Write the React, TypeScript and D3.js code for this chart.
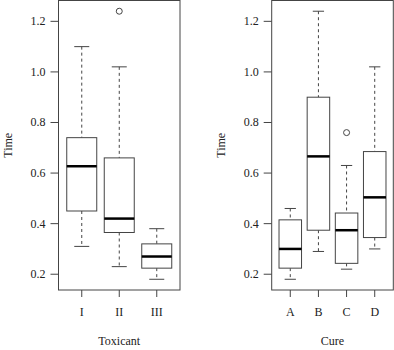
import React from "react";
import * as d3 from "d3";

const toxCategories = ["I", "II", "III"];
const toxLowerWhisker = [0.31, 0.23, 0.18];
const toxQ1 = [0.45, 0.365, 0.224];
const toxMedian = [0.627, 0.42, 0.27];
const toxQ3 = [0.74, 0.66, 0.32];
const toxUpperWhisker = [1.1, 1.02, 0.38];
const toxOutliers: number[][] = [[], [1.24], []];

const cureCategories = ["A", "B", "C", "D"];
const cureLowerWhisker = [0.18, 0.29, 0.22, 0.3];
const cureQ1 = [0.224, 0.374, 0.243, 0.345];
const cureMedian = [0.3, 0.666, 0.374, 0.504];
const cureQ3 = [0.415, 0.9, 0.442, 0.685];
const cureUpperWhisker = [0.46, 1.24, 0.63, 1.02];
const cureOutliers: number[][] = [[], [], [0.76], []];

const yTicks = [0.2, 0.4, 0.6, 0.8, 1.0, 1.2];
const yDomain = [0.1376, 1.2824];

const FONT = "Liberation Serif, Times New Roman, Times, serif";
const LINE = "#444";

type PanelProps = {
  left: number;
  right: number;
  cats: string[];
  lo: number[];
  q1: number[];
  med: number[];
  q3: number[];
  hi: number[];
  out: number[][];
  xlabel: string;
  ylabelX: number;
};

function Panel(p: PanelProps) {
  const top = 0.5;
  const bottom = 290;
  const y = d3.scaleLinear().domain(yDomain).range([bottom, top]);
  const n = p.cats.length;
  const x = d3
    .scaleLinear()
    .domain([0.5 - n * 0.04, n + 0.5 + n * 0.04])
    .range([p.left, p.right]);
  const unit = x(2) - x(1);
  const bw = 0.8 * unit;
  const cap = bw / 2;
  return (
    <g>
      <rect
        x={p.left}
        y={top}
        width={p.right - p.left}
        height={bottom - top}
        fill="none"
        stroke={LINE}
        strokeWidth={1}
      />
      {yTicks.map((t) => (
        <g key={t}>
          <line x1={p.left - 8} x2={p.left} y1={y(t)} y2={y(t)} stroke={LINE} />
          <text
            x={p.left - 13}
            y={y(t) + 4}
            textAnchor="end"
            fontFamily={FONT}
            fontSize={12}
            fill="#222"
          >
            {t.toFixed(1)}
          </text>
        </g>
      ))}
      {p.cats.map((c, i) => {
        const cx = x(i + 1);
        return (
          <g key={c}>
            <line x1={cx} x2={cx} y1={bottom} y2={bottom + 7} stroke={LINE} />
            <text
              x={cx}
              y={316}
              textAnchor="middle"
              fontFamily={FONT}
              fontSize={12}
              fill="#222"
            >
              {c}
            </text>
            <line
              x1={cx}
              x2={cx}
              y1={y(p.hi[i])}
              y2={y(p.q3[i])}
              stroke={LINE}
              strokeDasharray="3,3"
            />
            <line
              x1={cx}
              x2={cx}
              y1={y(p.q1[i])}
              y2={y(p.lo[i])}
              stroke={LINE}
              strokeDasharray="3,3"
            />
            <line x1={cx - cap / 2} x2={cx + cap / 2} y1={y(p.hi[i])} y2={y(p.hi[i])} stroke={LINE} />
            <line x1={cx - cap / 2} x2={cx + cap / 2} y1={y(p.lo[i])} y2={y(p.lo[i])} stroke={LINE} />
            <rect
              x={cx - bw / 2}
              y={y(p.q3[i])}
              width={bw}
              height={y(p.q1[i]) - y(p.q3[i])}
              fill="#fff"
              stroke={LINE}
            />
            <line
              x1={cx - bw / 2}
              x2={cx + bw / 2}
              y1={y(p.med[i])}
              y2={y(p.med[i])}
              stroke="#000"
              strokeWidth={2.5}
            />
            {p.out[i].map((o, k) => (
              <circle key={k} cx={cx} cy={y(o)} r={3} fill="none" stroke={LINE} />
            ))}
          </g>
        );
      })}
      <text
        x={(p.left + p.right) / 2}
        y={345}
        textAnchor="middle"
        fontFamily={FONT}
        fontSize={12}
        fill="#222"
      >
        {p.xlabel}
      </text>
      <text
        transform={`translate(${p.ylabelX},${(top + bottom) / 2}) rotate(-90)`}
        textAnchor="middle"
        fontFamily={FONT}
        fontSize={12}
        fill="#222"
      >
        Time
      </text>
    </g>
  );
}

export default function App() {
  return (
    <svg
      width={394}
      height={350}
      style={{ position: "absolute", left: 0, top: 0, background: "#fff" }}
    >
      <Panel
        left={58.5}
        right={180}
        cats={toxCategories}
        lo={toxLowerWhisker}
        q1={toxQ1}
        med={toxMedian}
        q3={toxQ3}
        hi={toxUpperWhisker}
        out={toxOutliers}
        xlabel="Toxicant"
        ylabelX={11.5}
      />
      <Panel
        left={271.7}
        right={393.3}
        cats={cureCategories}
        lo={cureLowerWhisker}
        q1={cureQ1}
        med={cureMedian}
        q3={cureQ3}
        hi={cureUpperWhisker}
        out={cureOutliers}
        xlabel="Cure"
        ylabelX={224.5}
      />
    </svg>
  );
}
